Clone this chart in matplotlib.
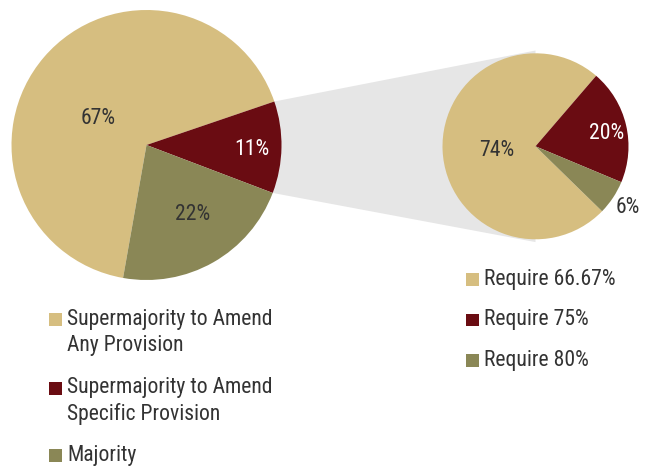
import numpy as np
import matplotlib
matplotlib.use("Agg")
import matplotlib.pyplot as plt
from matplotlib.patches import Rectangle, Polygon

plt.rcParams['font.family'] = ['Roboto Condensed', 'DejaVu Sans']
plt.rcParams['font.weight'] = 'normal'

# Amendment vote requirements
main_labels = ["Supermajority to Amend\nAny Provision",
               "Supermajority to Amend\nSpecific Provision",
               "Majority"]
main_values = [67, 11, 22]

detail_labels = ["Require 66.67%", "Require 75%", "Require 80%"]
detail_values = [74, 20, 6]

colors = ["#D6BE80", "#6A0C12", "#8A8756"]
text_dark = "#333333"

W, H = 651, 467
fig = plt.figure(figsize=(W / 100, H / 100), dpi=100)
ax = fig.add_axes([0, 0, 1, 1])

FS = 15.6

# main pie
c1, r1 = (146.5, 322.0), 135.0
w1, _ = ax.pie(main_values, colors=colors, startangle=260, counterclock=False,
               center=c1, radius=r1, frame=True,
               wedgeprops=dict(linewidth=0, zorder=2))

# detail pie
c2, r2 = (535.5, 320.7), 93.0
w2, _ = ax.pie(detail_values, colors=colors, startangle=-44.3, counterclock=False,
               center=c2, radius=r2, frame=True,
               wedgeprops=dict(linewidth=0, zorder=2))
ax.set_xlim(0, W)
ax.set_ylim(0, H)
ax.set_aspect('equal')
ax.axis('off')

# connector band from the red wedge to the detail pie
red = w1[1]
t_top, t_bot = np.deg2rad(max(red.theta1, red.theta2)), np.deg2rad(min(red.theta1, red.theta2))
p_top = (c1[0] + r1 * np.cos(t_top), c1[1] + r1 * np.sin(t_top))
p_bot = (c1[0] + r1 * np.cos(t_bot), c1[1] + r1 * np.sin(t_bot))
band = Polygon([p_top, (c2[0], c2[1] + r2 * 1.03), (c2[0], c2[1] - r2 * 1.03), p_bot],
               closed=True, facecolor="#E6E6E6", edgecolor='none', zorder=1)
ax.add_patch(band)


def wedge_label(wedge, center, r, value, frac, dtheta, color):
    mid = 0.5 * (wedge.theta1 + wedge.theta2) + dtheta
    t = np.deg2rad(mid)
    ax.text(center[0] + frac * r * np.cos(t), center[1] + frac * r * np.sin(t),
            f"{value}%", ha='center', va='center', fontsize=FS, color=color, zorder=3)


label_place_main = [(0.41, 12), (0.78, -1.5), (0.62, 4)]
label_color_main = [text_dark, "white", text_dark]
for w, v, (f, d), col in zip(w1, main_values, label_place_main, label_color_main):
    wedge_label(w, c1, r1, v, f, d, col)

label_place_detail = [(0.42, 3), (0.78, -3), (1.19, 0)]
label_color_detail = [text_dark, "white", text_dark]
for w, v, (f, d), col in zip(w2, detail_values, label_place_detail, label_color_detail):
    wedge_label(w, c2, r2, v, f, d, col)

# legends: coloured square aligned with the first line of each label
sq = 12.4
left_first = [325.7, 394.5, 461.7]
for lab, col, b in zip(main_labels, colors, left_first):
    yb = H - b
    ax.add_patch(Rectangle((49.3, yb), sq, sq, facecolor=col, edgecolor='none'))
    for i, line in enumerate(lab.split("\n")):
        ax.text(67.3, yb + 1 - i * 26.7, line, ha='left', va='baseline',
                fontsize=FS, color=text_dark)

right_first = [285.7, 326.3, 366.8]
for lab, col, b in zip(detail_labels, colors, right_first):
    yb = H - b
    ax.add_patch(Rectangle((466.3, yb), sq, sq, facecolor=col, edgecolor='none'))
    ax.text(484.3, yb + 1, lab, ha='left', va='baseline', fontsize=FS, color=text_dark)

fig.savefig("out.png", dpi=100)
